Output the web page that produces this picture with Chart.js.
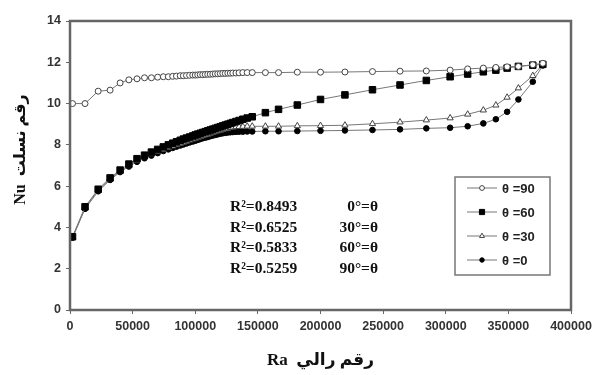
<!DOCTYPE html>
<html>
<head>
<meta charset="utf-8">
<script src="https://cdn.jsdelivr.net/npm/chart.js@4.4.1/dist/chart.umd.min.js"></script>
<style>
html, body { margin: 0; padding: 0; background: #fff; }
</style>
</head>
<body>
<canvas id="myChart" width="605" height="375"></canvas>
<script>
// Ra values (shared by all four series)
var ra = [2000, 12000, 22500, 32000, 40000, 47000, 53500, 59500, 65000, 70000,
          74500, 78500, 82000, 85000, 88000, 90500, 93000, 95500, 98000, 100000,
          102000, 104000, 106000, 108000, 110000, 112000, 114000, 116000, 118000, 120000,
          122000, 124000, 126000, 128000, 130000, 132500, 135000, 138000, 141500, 145500,
          156000, 166500, 181500, 200000, 219500, 241500, 263500, 284500, 303500, 317500,
          330000, 340000, 349000, 358000, 369500, 377500];

var nu90 = [10.0, 10.0, 10.6, 10.65, 11.0, 11.15, 11.2, 11.25, 11.25, 11.28,
            11.3, 11.3, 11.32, 11.33, 11.35, 11.35, 11.36, 11.37, 11.38, 11.38,
            11.39, 11.4, 11.4, 11.41, 11.42, 11.42, 11.43, 11.44, 11.44, 11.45,
            11.46, 11.46, 11.47, 11.47, 11.48, 11.48, 11.49, 11.5, 11.5, 11.5,
            11.5, 11.5, 11.52, 11.52, 11.53, 11.55, 11.57, 11.58, 11.62, 11.68,
            11.72, 11.75, 11.78, 11.8, 11.88, 11.95];

var nu60 = [3.55, 5.0, 5.85, 6.4, 6.78, 7.07, 7.33, 7.5, 7.65, 7.78,
            7.9, 8.0, 8.08, 8.15, 8.22, 8.28, 8.33, 8.38, 8.43, 8.48,
            8.52, 8.56, 8.6, 8.64, 8.68, 8.72, 8.76, 8.8, 8.84, 8.88,
            8.92, 8.96, 9.0, 9.04, 9.08, 9.13, 9.18, 9.24, 9.3, 9.36,
            9.56, 9.72, 9.93, 10.2, 10.42, 10.67, 10.9, 11.12, 11.3, 11.43,
            11.54, 11.62, 11.72, 11.8, 11.86, 11.9];

var nu30 = [3.5, 4.95, 5.8, 6.35, 6.72, 7.0, 7.25, 7.42, 7.56, 7.68,
            7.78, 7.87, 7.94, 8.0, 8.06, 8.12, 8.17, 8.22, 8.27, 8.31,
            8.35, 8.39, 8.43, 8.47, 8.51, 8.55, 8.59, 8.63, 8.67, 8.7,
            8.74, 8.77, 8.8, 8.83, 8.85, 8.87, 8.88, 8.89, 8.9, 8.9,
            8.9, 8.9, 8.92, 8.93, 8.95, 9.02, 9.1, 9.2, 9.3, 9.48,
            9.68, 9.92, 10.3, 10.75, 11.35, 11.9];

var nu0 = [3.5, 4.9, 5.75, 6.3, 6.68, 6.95, 7.18, 7.35, 7.48, 7.6,
           7.7, 7.78, 7.85, 7.91, 7.97, 8.02, 8.07, 8.12, 8.16, 8.2,
           8.24, 8.28, 8.32, 8.35, 8.38, 8.42, 8.45, 8.48, 8.51, 8.54,
           8.56, 8.58, 8.6, 8.61, 8.62, 8.63, 8.64, 8.64, 8.65, 8.65,
           8.66, 8.66, 8.67, 8.68, 8.7, 8.72, 8.75, 8.8, 8.83, 8.9,
           9.04, 9.24, 9.6, 10.2, 11.06, 11.85];

var seriesLabels = ['θ =90', 'θ =60', 'θ =30', 'θ =0'];
var xTicks = [0, 50000, 100000, 150000, 200000, 250000, 300000, 350000, 400000];
var yTicks = [0, 2, 4, 6, 8, 10, 12, 14];
var fitR2 = ['R²=0.8493', 'R²=0.6525', 'R²=0.5833', 'R²=0.5259'];
var fitAngle = ['0°=θ', '30°=θ', '60°=θ', '90°=θ'];

function pts(ys) {
    return ra.map(function(x, i) { return { x: x, y: ys[i] }; });
}

var styles = [
    { data: nu90, pointStyle: 'circle',   radius: 3,   bg: '#fff',  border: '#444' },
    { data: nu60, pointStyle: 'rect',     radius: 4.6, bg: '#000',  border: '#000' },
    { data: nu30, pointStyle: 'triangle', radius: 3.6, bg: '#fff',  border: '#444' },
    { data: nu0,  pointStyle: 'circle',   radius: 2.8, bg: '#000',  border: '#000' }
];

var datasets = styles.map(function(s, i) {
    return {
        label: seriesLabels[i],
        data: pts(s.data),
        showLine: true,
        borderColor: '#777',
        borderWidth: 1,
        pointStyle: s.pointStyle,
        pointRadius: s.radius,
        pointBackgroundColor: s.bg,
        pointBorderColor: s.border,
        pointBorderWidth: 1
    };
});

// frame, R² block and legend box
var extras = {
    id: 'extras',
    afterDraw: function(chart) {
        var ctx = chart.ctx;
        var a = chart.chartArea;
        ctx.save();
        ctx.strokeStyle = '#666';
        ctx.lineWidth = 2.5;
        ctx.strokeRect(a.left, a.top, a.right - a.left, a.bottom - a.top);

        // R² annotations
        ctx.fillStyle = '#111';
        ctx.font = 'bold 15.5px "Liberation Serif", "Times New Roman", serif';
        ctx.textBaseline = 'middle';
        for (var i = 0; i < fitR2.length; i++) {
            var y = 207 + i * 20.7;
            ctx.textAlign = 'left';
            ctx.fillText(fitR2[i], 230, y);
            ctx.textAlign = 'right';
            ctx.fillText(fitAngle[i], 378, y);
        }

        // legend
        ctx.strokeStyle = '#777';
        ctx.lineWidth = 1.5;
        ctx.strokeRect(455, 177, 95, 98);
        ctx.font = 'bold 13px "Liberation Sans", Arial, sans-serif';
        ctx.textAlign = 'left';
        for (var j = 0; j < datasets.length; j++) {
            var ds = datasets[j];
            var ly = 188 + j * 24;
            ctx.strokeStyle = '#777';
            ctx.lineWidth = 1;
            ctx.beginPath();
            ctx.moveTo(467, ly);
            ctx.lineTo(497, ly);
            ctx.stroke();
            ctx.fillStyle = ds.pointBackgroundColor;
            ctx.strokeStyle = ds.pointBorderColor;
            Chart.helpers.drawPoint(ctx, { pointStyle: ds.pointStyle, radius: ds.pointRadius * 0.8, borderWidth: 1 }, 482, ly);
            ctx.fillStyle = '#222';
            ctx.fillText(ds.label, 502, ly + 1);
        }
        ctx.restore();
    }
};

var tickFont = { family: '"Liberation Sans", Arial, sans-serif', size: 12.5, weight: 'bold' };
var titleFont = { family: '"Liberation Serif", "DejaVu Sans", serif', size: 17, weight: 'bold' };

var ctx = document.getElementById('myChart').getContext('2d');
var myChart = new Chart(ctx, {
    type: 'scatter',
    data: { datasets: datasets },
    options: {
        responsive: false,
        animation: false,
        layout: { padding: { top: 21, right: 34, left: 0, bottom: 0 } },
        plugins: {
            legend: { display: false },
            tooltip: { enabled: false }
        },
        scales: {
            x: {
                type: 'linear',
                min: 0,
                max: 400000,
                afterBuildTicks: function(scale) {
                    scale.ticks = xTicks.map(function(v) { return { value: v }; });
                },
                afterFit: function(scale) { scale.height = 65; },
                border: { display: false },
                grid: { drawOnChartArea: false, tickLength: 4, color: '#666' },
                ticks: {
                    font: tickFont,
                    color: '#333',
                    padding: 5,
                    maxRotation: 0,
                    callback: function(v) { return String(v); }
                },
                title: {
                    display: true,
                    text: 'Ra  رقم رالي',
                    font: titleFont,
                    color: '#111',
                    padding: { top: 0, bottom: 4 }
                }
            },
            y: {
                min: 0,
                max: 14,
                afterBuildTicks: function(scale) {
                    scale.ticks = yTicks.map(function(v) { return { value: v }; });
                },
                afterFit: function(scale) { scale.width = 70; },
                border: { display: false },
                grid: { drawOnChartArea: false, tickLength: 4, color: '#666' },
                ticks: {
                    font: tickFont,
                    color: '#333',
                    padding: 5,
                    callback: function(v) { return String(v); }
                },
                title: {
                    display: true,
                    text: '        Nu  رقم نسلت',
                    font: { family: '"Liberation Serif", "DejaVu Sans", serif', size: 16, weight: 'bold' },
                    color: '#111',
                    padding: { top: 11, bottom: 0 }
                }
            }
        }
    },
    plugins: [extras]
});
</script>
</body>
</html>
